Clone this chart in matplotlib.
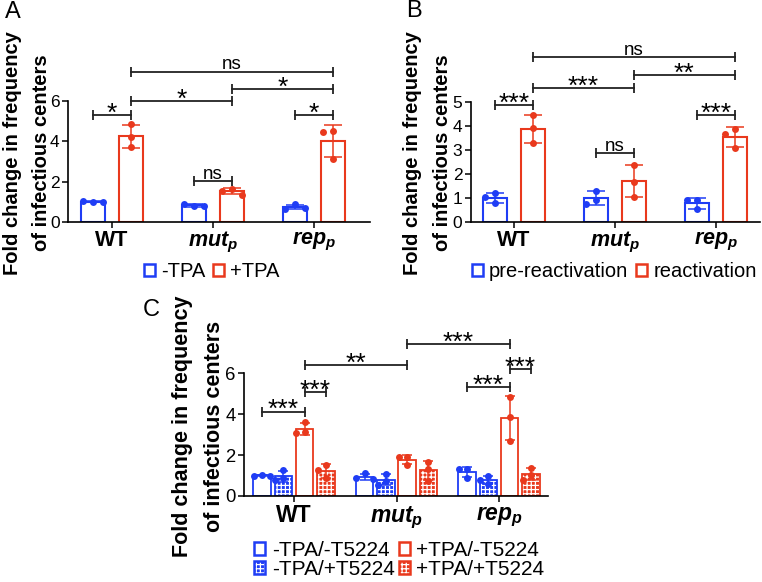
import numpy as np
import matplotlib
matplotlib.use("Agg")
import matplotlib.pyplot as plt
from matplotlib.patches import Patch
from matplotlib.legend_handler import HandlerTuple

plt.rcParams["font.family"] = ["Liberation Sans", "DejaVu Sans"]
plt.rcParams["mathtext.fontset"] = "custom"
plt.rcParams["mathtext.it"] = "Liberation Sans:italic:bold"
plt.rcParams["mathtext.rm"] = "Liberation Sans:bold"
plt.rcParams["hatch.linewidth"] = 0.9

BLUE = "#1f3df5"
RED = "#e9391d"
YLABEL = "Fold change in frequency\nof infectious centers"
CHECK = "++++"

GROUPS = ["WT", "$mut_p$", "$rep_p$"]

# panel A: three replicates per group
A_LABELS = ["-TPA", "+TPA"]
A_MINUS = [[1.0, 1.02, 1.0], [0.8, 0.9, 0.78], [0.88, 0.66, 0.7]]
A_PLUS = [[4.85, 4.2, 3.72], [1.64, 1.56, 1.36], [4.5, 4.45, 3.1]]
# (group, series), (group, series), height, label
A_SIG = [((0, 0), (0, 1), 5.3, "*"), ((0, 1), (2, 1), 7.46, "ns"),
         ((0, 1), (1, 1), 6.0, "*"), ((1, 1), (2, 1), 6.58, "*"),
         ((2, 0), (2, 1), 5.3, "*"), ((1, 0), (1, 1), 2.02, "ns")]

# panel B
B_LABELS = ["pre-reactivation", "reactivation"]
B_PRE = [[1.21, 0.8, 1.02], [1.3, 0.91, 0.74], [0.91, 0.9, 0.52]]
B_REACT = [[4.47, 3.91, 3.28], [2.39, 1.68, 1.05], [3.88, 3.66, 3.1]]
B_SIG = [((0, 0), (0, 1), 4.87, "***"), ((0, 1), (2, 1), 6.89, "ns"),
         ((0, 1), (1, 1), 5.59, "***"), ((1, 1), (2, 1), 6.15, "**"),
         ((2, 0), (2, 1), 4.46, "***"), ((1, 0), (1, 1), 2.86, "ns")]

# panel C
C_LABELS = ["-TPA/-T5224", "-TPA/+T5224", "+TPA/-T5224", "+TPA/+T5224"]
C_MM = [[1.02, 1.0, 1.0], [1.12, 0.88, 0.84], [1.33, 1.3, 0.9]]
C_MP = [[1.27, 0.86, 0.76], [1.08, 0.72, 0.55], [1.0, 0.76, 0.6]]
C_PM = [[3.64, 3.12, 3.08], [1.92, 1.9, 1.52], [4.86, 3.85, 2.69]]
C_PP = [[1.52, 1.27, 0.86], [1.68, 1.32, 0.75], [1.39, 1.03, 0.78]]
C_SIG = [((0, 0), (0, 2), 4.13, "***"), ((0, 2), (0, 3), 5.07, "***"),
         ((0, 2), (1, 2), 6.41, "**"), ((1, 2), (2, 2), 7.42, "***"),
         ((2, 0), (2, 2), 5.32, "***"), ((2, 2), (2, 3), 6.2, "***")]


def swarm(vals, d, thr):
    placed = []
    for v in vals:
        for o in (0, -d, d, -2 * d, 2 * d):
            if all(abs(v - pv) >= thr or abs(o - po) >= d * 0.9 for pv, po in placed):
                break
        placed.append((v, o))
    return [o for _, o in placed]


def panel(ax, series, colors, hatched, offsets, width, sig, ylim, yticks, xlim,
          blw, cap, ms, d, thr, fs):
    for s, data in enumerate(series):
        col = colors[s]
        means = [np.mean(r) for r in data]
        sds = [np.std(r, ddof=1) for r in data]
        xs = np.arange(len(data)) + offsets[s]
        if hatched[s]:
            ax.bar(xs, means, width, color=col, edgecolor="white", hatch=CHECK, lw=0, zorder=2)
            ax.bar(xs, means, width, fill=False, edgecolor=col, lw=blw, zorder=2.1)
        else:
            ax.bar(xs, means, width, color="white", edgecolor=col, lw=blw, zorder=2)
        ax.errorbar(xs, means, yerr=sds, fmt="none", ecolor=col, elinewidth=1.1,
                    capsize=cap, capthick=1.1, zorder=3)
        for x, r in zip(xs, data):
            ax.plot(x + np.array(swarm(r, d, thr)), r, "o", color=col, ms=ms,
                    mew=0, zorder=4, clip_on=False)
    for (g1, s1), (g2, s2), y, lab in sig:
        x1, x2 = g1 + offsets[s1], g2 + offsets[s2]
        ax.plot([x1, x2], [y, y], color="#222222", lw=1.3, marker="|", ms=7, mew=1.3,
                clip_on=False, zorder=5)
        star = lab.startswith("*")
        ax.annotate(lab, ((x1 + x2) / 2, y), xytext=(0, -4 if star else 1.5),
                    textcoords="offset points", ha="center", va="baseline",
                    fontsize=19 if star else 13.5, annotation_clip=False)
    ax.set_xlim(*xlim)
    ax.set_ylim(*ylim)
    ax.set_yticks(yticks)
    ax.set_xticks(range(len(GROUPS)))
    ax.set_xticklabels(GROUPS, fontsize=fs[1], fontweight="bold")
    ax.tick_params(axis="y", labelsize=fs[0], length=4, width=1.1, pad=2)
    ax.tick_params(axis="x", length=4, width=1.1, pad=2)
    for side in ("top", "right"):
        ax.spines[side].set_visible(False)
    for side in ("left", "bottom"):
        ax.spines[side].set_linewidth(1.2)


fig = plt.figure(figsize=(7.62, 5.82), dpi=100)

axA = fig.add_axes([0.0892, 0.6186, 0.3964, 0.2079])
panel(axA, [A_MINUS, A_PLUS], [BLUE, RED], [False, False], [-0.188, 0.188], 0.245,
      A_SIG, (0, 6), [0, 2, 4, 6], (-0.436, 2.554), 1.5, 6.5, 5, 0.1, 0.3, (12.5, 15.5))

axB = fig.add_axes([0.6177, 0.619, 0.3797, 0.2052])
panel(axB, [B_PRE, B_REACT], [BLUE, RED], [False, False], [-0.188, 0.188], 0.24,
      B_SIG, (0, 5), [0, 1, 2, 3, 4, 5], (-0.43, 2.44), 1.5, 6.5, 5, 0.1, 0.25, (12.5, 15.5))

axC = fig.add_axes([0.3202, 0.1478, 0.399, 0.2108])
c_off = [(i - 1.5) * 0.207 for i in range(4)]
panel(axC, [C_MM, C_MP, C_PM, C_PP], [BLUE, BLUE, RED, RED], [False, True, False, True],
      c_off, 0.17, C_SIG, (0, 6), [0, 2, 4, 6], (-0.488, 2.478), 1.3, 3.6, 5, 0.08, 0.3,
      (13.3, 16.5))


def handle(col, hatched):
    if hatched:
        return (Patch(facecolor=col, edgecolor="white", hatch=CHECK, lw=0),
                Patch(fill=False, edgecolor=col, lw=1.8))
    return Patch(facecolor="white", edgecolor=col, lw=1.8)


leg_kw = dict(loc="center", bbox_transform=fig.transFigure, frameon=False,
              handlelength=0.55, handleheight=0.55, handletextpad=0.3,
              borderpad=0, handler_map={tuple: HandlerTuple(ndivide=1, pad=0)})
axA.legend([handle(BLUE, False), handle(RED, False)], A_LABELS, ncol=2,
           bbox_to_anchor=(0.278, 0.534), fontsize=14.5, columnspacing=0.4, **leg_kw)
axB.legend([handle(BLUE, False), handle(RED, False)], B_LABELS, ncol=2,
           bbox_to_anchor=(0.806, 0.534), fontsize=14.5, columnspacing=0.4, **leg_kw)
axC.legend([handle(BLUE, False), handle(BLUE, True), handle(RED, False), handle(RED, True)],
           C_LABELS, ncol=2, bbox_to_anchor=(0.524, 0.038), fontsize=15,
           columnspacing=0.2, labelspacing=0.0, **leg_kw)

for x, y, fsz in ((0.0354, 0.737, 14.5), (0.561, 0.737, 14.5), (0.261, 0.268, 15.5)):
    fig.text(x, y, YLABEL, rotation=90, ha="center", va="center", fontweight="bold",
             fontsize=fsz, linespacing=1.7, multialignment="center")

for x, y, lab in ((0.017, 0.979, "A"), (0.543, 0.981, "B"), (0.198, 0.467, "C")):
    fig.text(x, y, lab, ha="center", va="center", fontsize=17)

fig.savefig("out.png", dpi=100)
